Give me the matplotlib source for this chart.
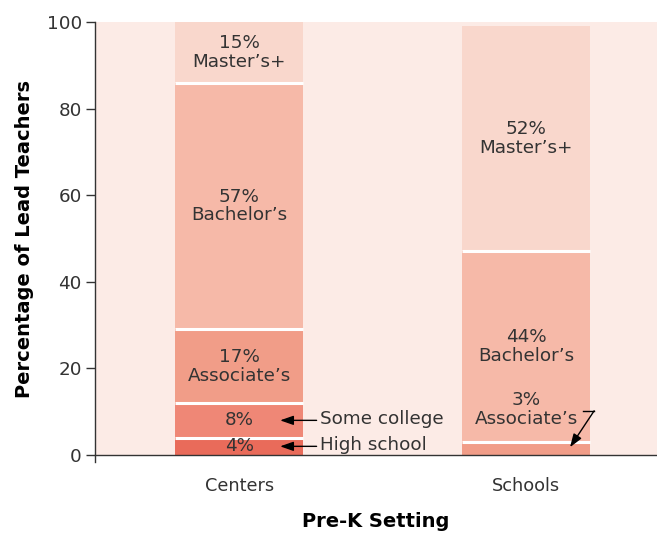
import matplotlib
matplotlib.use("Agg")
import matplotlib.pyplot as plt
import numpy as np

plt.rcParams["font.family"] = ["DejaVu Sans"]

# Data: share of lead teachers by highest degree, per pre-K setting
settings = ["Centers", "Schools"]
levels = ["High school", "Some college", "Associate’s", "Bachelor’s", "Master’s+"]
centers = [4, 8, 17, 57, 15]
schools = [0, 0, 3, 44, 52]
yticks = [0, 20, 40, 60, 80, 100]

colors = ["#e96b5a", "#ef8776", "#f19d88", "#f6b9a8", "#f9d7cc"]
bg = "#fcebe6"
ink = "#333333"
fs = 13.2

fig = plt.figure(figsize=(6.57, 5.33), dpi=100)
ax = fig.add_axes([95 / 657, 78 / 533, 562 / 657, 433 / 533])
ax.set_facecolor(bg)

x = np.arange(len(settings))
width = 0.446
data = np.array([centers, schools], dtype=float)
bottoms = np.zeros(len(settings))
for j, lvl in enumerate(levels):
    vals = data[:, j]
    ax.bar(x, vals, width, bottom=bottoms, color=colors[j], linewidth=0, zorder=2)
    bottoms = bottoms + vals

# white separators between stacked segments
for i in range(len(settings)):
    cum = np.cumsum(data[i])
    firsts = np.where(data[i] > 0)[0]
    for j in firsts[:-1]:
        y = cum[j]
        if 0 < y < 100:
            ax.plot([x[i] - width / 2, x[i] + width / 2], [y, y], color="white",
                    lw=2.2, solid_capstyle="butt", zorder=3)

# segment labels
def seg_center(i, j):
    cum = np.cumsum(data[i])
    lo = cum[j] - data[i, j]
    hi = min(cum[j], 100)
    return (lo + hi) / 2

tkw = dict(ha="center", va="center", fontsize=fs, color=ink, linespacing=1.06, zorder=4)
for j in [2, 3, 4]:
    ax.text(x[0], seg_center(0, j), f"{centers[j]}%\n{levels[j]}", **tkw)
for j in [0, 1]:
    ax.text(x[0], seg_center(0, j), f"{centers[j]}%", **tkw)
for j in [3, 4]:
    ax.text(x[1], seg_center(1, j), f"{schools[j]}%\n{levels[j]}", **tkw)
ax.text(x[1], 10.6, f"{schools[2]}%\n{levels[2]}", **tkw)

# callouts for the two thin Centers segments
akw = dict(arrowstyle="-|>,head_length=0.8,head_width=0.28", color="black", lw=1.0,
           shrinkA=0, shrinkB=0)
for j in [1, 0]:
    yc = seg_center(0, j)
    ax.annotate("", xy=(0.143, yc), xytext=(0.27, yc), arrowprops=akw, zorder=5)
    ax.text(0.283, yc + 0.3, levels[j], ha="left", va="center", fontsize=fs,
            color=ink, zorder=5)

# callout for the Schools associate's segment
ax.plot([1.199, 1.237], [10.2, 10.2], color="black", lw=1.0, zorder=5)
ax.annotate("", xy=(1.153, 1.8), xytext=(1.237, 10.2), arrowprops=akw, zorder=5)

ax.set_xlim(-0.502, 1.456)
ax.set_ylim(0, 100)
ax.set_yticks(yticks)
ax.set_xticks(x)
ax.set_xticklabels(settings)
ax.tick_params(axis="y", length=6.5, width=1.0, color=ink, labelsize=fs,
               labelcolor=ink, pad=3)
ax.tick_params(axis="x", length=0, labelsize=fs - 0.4, labelcolor=ink, pad=16)

for s in ["top", "right"]:
    ax.spines[s].set_visible(False)
for s in ["left", "bottom"]:
    ax.spines[s].set_color(ink)
    ax.spines[s].set_linewidth(1.0)
ax.spines["left"].set_bounds(-1.7, 100)

ax.set_ylabel("Percentage of Lead Teachers", fontsize=14, fontweight="bold",
              color="black", labelpad=9)
ax.set_xlabel("Pre-K Setting", fontsize=14, fontweight="bold", color="black",
              labelpad=12)

fig.savefig("out.png", dpi=100)
